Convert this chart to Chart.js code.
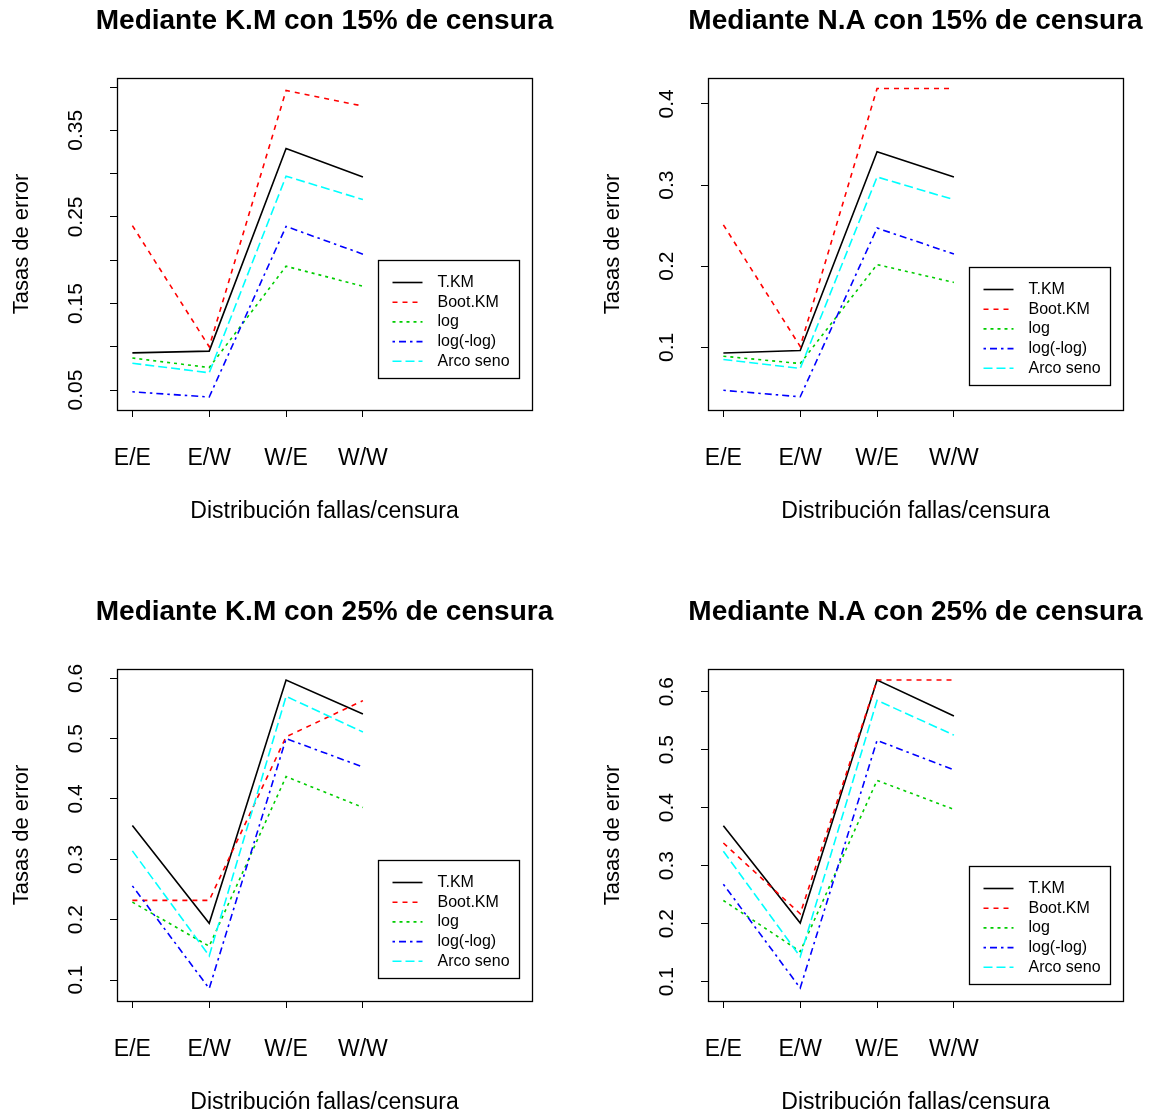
<!DOCTYPE html>
<html>
<head>
<meta charset="utf-8">
<script src="https://cdn.jsdelivr.net/npm/chart.js@4.4.1/dist/chart.umd.min.js"></script>
<style>
  body { margin: 0; background: #fff; width: 1151px; height: 1118px; position: relative; overflow: hidden; }
  canvas { position: absolute; }
</style>
</head>
<body>
<canvas id="p1" width="560" height="527" style="left:0;top:0"></canvas>
<canvas id="p2" width="560" height="527" style="left:591px;top:0"></canvas>
<canvas id="p3" width="560" height="527" style="left:0;top:591px"></canvas>
<canvas id="p4" width="560" height="527" style="left:591px;top:591px"></canvas>
<script>
const categories = ['E/E', 'E/W', 'W/E', 'W/W'];
const seriesNames = ['T.KM', 'Boot.KM', 'log', 'log(-log)', 'Arco seno'];

// Mediante K.M con 15% de censura
const km15TKM    = [0.093, 0.095, 0.329, 0.296];
const km15Boot   = [0.240, 0.100, 0.396, 0.378];
const km15Log    = [0.087, 0.076, 0.193, 0.170];
const km15LogLog = [0.048, 0.042, 0.239, 0.207];
const km15Arco   = [0.081, 0.070, 0.297, 0.270];

// Mediante N.A con 15% de censura
const na15TKM    = [0.093, 0.096, 0.341, 0.310];
const na15Boot   = [0.251, 0.101, 0.419, 0.419];
const na15Log    = [0.089, 0.080, 0.202, 0.180];
const na15LogLog = [0.047, 0.039, 0.247, 0.215];
const na15Arco   = [0.085, 0.074, 0.310, 0.282];

// Mediante K.M con 25% de censura
const km25TKM    = [0.356, 0.194, 0.597, 0.541];
const km25Boot   = [0.232, 0.232, 0.503, 0.563];
const km25Log    = [0.229, 0.156, 0.437, 0.386];
const km25LogLog = [0.256, 0.086, 0.500, 0.453];
const km25Arco   = [0.314, 0.140, 0.570, 0.511];

// Mediante N.A con 25% de censura
const na25TKM    = [0.369, 0.201, 0.620, 0.558];
const na25Boot   = [0.339, 0.217, 0.620, 0.620];
const na25Log    = [0.240, 0.152, 0.447, 0.397];
const na25LogLog = [0.268, 0.089, 0.516, 0.465];
const na25Arco   = [0.325, 0.143, 0.585, 0.525];

const yTicksKM15 = [0.05, 0.10, 0.15, 0.20, 0.25, 0.30, 0.35, 0.40];
const yLabelsKM15 = ['0.05', '0.15', '0.25', '0.35'];
const yTicksNA15 = [0.1, 0.2, 0.3, 0.4];
const yLabelsNA15 = ['0.1', '0.2', '0.3', '0.4'];
const yTicks25 = [0.1, 0.2, 0.3, 0.4, 0.5, 0.6];
const yLabels25 = ['0.1', '0.2', '0.3', '0.4', '0.5', '0.6'];

const lineColors = ['#000000', '#ff0000', '#00cd00', '#0000ff', '#00ffff'];
const lineDashes = [[], [5, 5], [3, 4], [2.5, 4, 7, 4], [9, 4]];

const FONT = '"Liberation Sans", Arial, sans-serif';
Chart.defaults.font.family = FONT;
Chart.defaults.color = '#000';

// main title centred over the plot box (R's title() does not shrink it)
const panelTitle = {
    id: 'panelTitle',
    afterDraw(chart, args, opts) {
        const { ctx, chartArea: a } = chart;
        ctx.save();
        ctx.fillStyle = '#000';
        ctx.font = 'bold 28px ' + FONT;
        ctx.textAlign = 'center';
        ctx.textBaseline = 'middle';
        ctx.fillText(opts.text, (a.left + a.right) / 2, 21);
        ctx.restore();
    }
};

// full box round the plot region, like R's box()
const boxFrame = {
    id: 'boxFrame',
    afterDraw(chart) {
        const { ctx, chartArea: a } = chart;
        ctx.save();
        ctx.strokeStyle = '#000';
        ctx.lineWidth = 1.3;
        ctx.strokeRect(Math.round(a.left) + 0.5, Math.round(a.top) + 0.5,
            Math.round(a.right - a.left), Math.round(a.bottom - a.top));
        ctx.restore();
    }
};

// legend box placed at a data coordinate (top-left corner)
const boxLegend = {
    id: 'boxLegend',
    afterDatasetsDraw(chart, args, opts) {
        const { ctx, scales: { x, y } } = chart;
        const left = Math.round(x.getPixelForValue(opts.at[0])) + 0.5;
        const top = Math.round(y.getPixelForValue(opts.at[1])) + 0.5;
        ctx.save();
        ctx.fillStyle = '#fff';
        ctx.fillRect(left, top, 141, 118);
        ctx.strokeStyle = '#000';
        ctx.lineWidth = 1.3;
        ctx.strokeRect(left, top, 141, 118);
        chart.data.datasets.forEach((ds, i) => {
            const yy = top + 22 + i * 19.7;
            ctx.strokeStyle = ds.borderColor;
            ctx.lineWidth = ds.borderWidth;
            ctx.setLineDash(ds.borderDash);
            ctx.beginPath();
            ctx.moveTo(left + 14, yy);
            ctx.lineTo(left + 44, yy);
            ctx.stroke();
            ctx.setLineDash([]);
            ctx.fillStyle = '#000';
            ctx.font = '16px ' + FONT;
            ctx.textBaseline = 'middle';
            ctx.fillText(ds.label, left + 59, yy);
        });
        ctx.restore();
    }
};

const tickGrid = { drawOnChartArea: false, drawTicks: true, tickLength: 7, color: '#000', lineWidth: 1 };

function makePanel(id, title, series, yMin, yMax, yTicks, yLabels, legendAt, yPad) {
    return new Chart(document.getElementById(id), {
        type: 'line',
        data: {
            datasets: series.map((vals, i) => ({
                label: seriesNames[i],
                data: vals.map((v, j) => ({ x: j + 1, y: v })),
                borderColor: lineColors[i],
                borderDash: lineDashes[i],
                borderWidth: 1.6,
                pointRadius: 0,
                tension: 0,
                fill: false,
                order: series.length - i
            }))
        },
        options: {
            responsive: false,
            animation: false,
            events: [],
            layout: { padding: { left: 0, right: 28, top: 78, bottom: 0 } },
            plugins: {
                legend: { display: false },
                tooltip: { enabled: false },
                title: { display: false },
                panelTitle: { text: title },
                boxLegend: { at: legendAt }
            },
            scales: {
                x: {
                    type: 'linear',
                    min: 0.8,
                    max: 6.2,
                    afterBuildTicks: s => { s.ticks = categories.map((_, j) => ({ value: j + 1 })); },
                    afterFit: s => { s.height = 117; },
                    ticks: {
                        callback: v => categories[Math.round(v) - 1],
                        font: { size: 23 },
                        color: '#000',
                        padding: 28,
                        maxRotation: 0,
                        autoSkip: false
                    },
                    grid: tickGrid,
                    border: { display: false },
                    title: {
                        display: true,
                        text: 'Distribución fallas/censura',
                        color: '#000',
                        font: { size: 23 },
                        padding: { top: 0, bottom: 1.5 }
                    }
                },
                y: {
                    type: 'linear',
                    min: yMin,
                    max: yMax,
                    afterBuildTicks: s => { s.ticks = yTicks.map(v => ({ value: v })); },
                    afterFit: s => { s.width = 117; },
                    ticks: {
                        callback: v => yLabels.find(l => Math.abs(Number(l) - v) < 1e-9) || '',
                        font: { size: 21 },
                        color: '#000',
                        minRotation: 90,
                        maxRotation: 90,
                        crossAlign: 'center',
                        padding: yPad,
                        autoSkip: false
                    },
                    grid: tickGrid,
                    border: { display: false },
                    title: {
                        display: true,
                        text: 'Tasas de error',
                        color: '#000',
                        font: { size: 22 },
                        padding: { top: 9, bottom: 0 }
                    }
                }
            }
        },
        plugins: [panelTitle, boxFrame, boxLegend]
    });
}

makePanel('p1', 'Mediante K.M con 15% de censura',
    [km15TKM, km15Boot, km15Log, km15LogLog, km15Arco],
    0.027, 0.4104, yTicksKM15, yLabelsKM15, [4.19, 0.200], 13);
makePanel('p2', 'Mediante N.A con 15% de censura',
    [na15TKM, na15Boot, na15Log, na15LogLog, na15Arco],
    0.0227, 0.432, yTicksNA15, yLabelsNA15, [4.19, 0.199], 19);
makePanel('p3', 'Mediante K.M con 25% de censura',
    [km25TKM, km25Boot, km25Log, km25LogLog, km25Arco],
    0.0652, 0.6154, yTicks25, yLabels25, [4.19, 0.299], 19);
makePanel('p4', 'Mediante N.A con 25% de censura',
    [na25TKM, na25Boot, na25Log, na25LogLog, na25Arco],
    0.0667, 0.639, yTicks25, yLabels25, [4.19, 0.2995], 19);
</script>
</body>
</html>
